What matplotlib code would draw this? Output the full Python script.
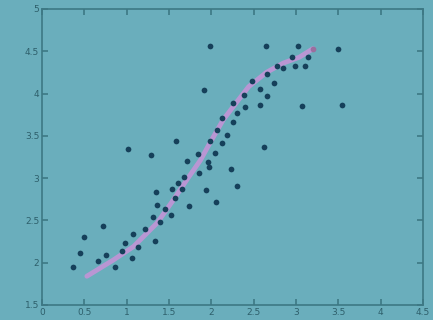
import matplotlib
matplotlib.use("Agg")
import matplotlib.pyplot as plt

x_pts = [0.37, 0.45, 0.50, 0.72, 0.66, 0.76, 0.86, 0.94, 0.98, 1.06,
         1.07, 1.13, 1.22, 1.33, 1.31, 1.35, 1.36, 1.39, 1.45, 1.54,
         1.52, 1.57, 1.61, 1.65, 1.68, 1.74, 1.85, 1.94, 1.71, 1.96,
         1.97, 2.06, 2.04, 2.23, 2.30, 1.02, 1.29, 1.58, 1.84, 1.98,
         1.91, 1.98, 2.07, 2.13, 2.13, 2.18, 2.26, 2.30, 2.26, 2.40,
         2.39, 2.57, 2.57, 2.48, 2.66, 2.74, 2.66, 3.07, 3.54, 2.78,
         2.85, 2.99, 3.11, 2.95, 3.14, 2.65, 3.02, 3.50, 2.62]
y_pts = [1.95, 2.11, 2.30, 2.43, 2.02, 2.09, 1.95, 2.14, 2.23, 2.06,
         2.34, 2.19, 2.40, 2.26, 2.54, 2.84, 2.68, 2.48, 2.64, 2.87,
         2.56, 2.77, 2.94, 2.87, 3.01, 2.67, 3.06, 2.86, 3.20, 3.19,
         3.13, 2.72, 3.30, 3.11, 2.91, 3.34, 3.27, 3.44, 3.29, 3.44,
         4.04, 4.56, 3.57, 3.71, 3.42, 3.51, 3.66, 3.77, 3.89, 3.84,
         3.98, 3.86, 4.05, 4.15, 4.23, 4.13, 3.97, 3.85, 3.86, 4.33,
         4.30, 4.33, 4.33, 4.43, 4.43, 4.56, 4.56, 4.53, 3.37]

# fitted curve (pink), ends on a pinkish point
x_fit = [0.53, 0.84, 1.08, 1.36, 1.55, 1.71, 1.87, 1.98, 2.14, 2.27,
         2.44, 2.65, 2.85, 3.04, 3.20]
y_fit = [1.84, 2.03, 2.19, 2.47, 2.74, 2.98, 3.21, 3.41, 3.69, 3.86,
         4.08, 4.25, 4.36, 4.43, 4.53]

BG = "#6aaebc"
EDGE = "#3d7884"
DOT = "#16405a"

fig = plt.figure(figsize=(4.33, 3.2), dpi=100, facecolor=BG)
ax = fig.add_axes([0.097, 0.047, 0.88, 0.925], facecolor=BG)

ax.plot(x_fit, y_fit, color="#c294d6", lw=3.5, alpha=0.9,
        solid_capstyle="round", zorder=2)
ax.scatter(x_pts, y_pts, s=17, color=DOT, zorder=3, linewidths=0)
ax.scatter(x_fit[-1:], y_fit[-1:], s=17, color="#9a6f9e", zorder=3,
           linewidths=0)

ax.set_xlim(0, 4.5)
ax.set_ylim(1.5, 5)
ax.set_xticks([0, 0.5, 1, 1.5, 2, 2.5, 3, 3.5, 4, 4.5])
ax.set_xticklabels(["0", "0.5", "1", "1.5", "2", "2.5", "3", "3.5", "4", "4.5"])
ax.set_yticks([1.5, 2, 2.5, 3, 3.5, 4, 4.5, 5])
ax.set_yticklabels(["1.5", "2", "2.5", "3", "3.5", "4", "4.5", "5"])

for s in ax.spines.values():
    s.set_color(EDGE)
    s.set_linewidth(1.2)
ax.tick_params(direction="in", length=4, width=1.2, color=EDGE,
               top=True, right=True, labelsize=6.5, labelcolor="#2e5f6b",
               pad=2)

fig.savefig("out.png", dpi=100, facecolor=BG)
